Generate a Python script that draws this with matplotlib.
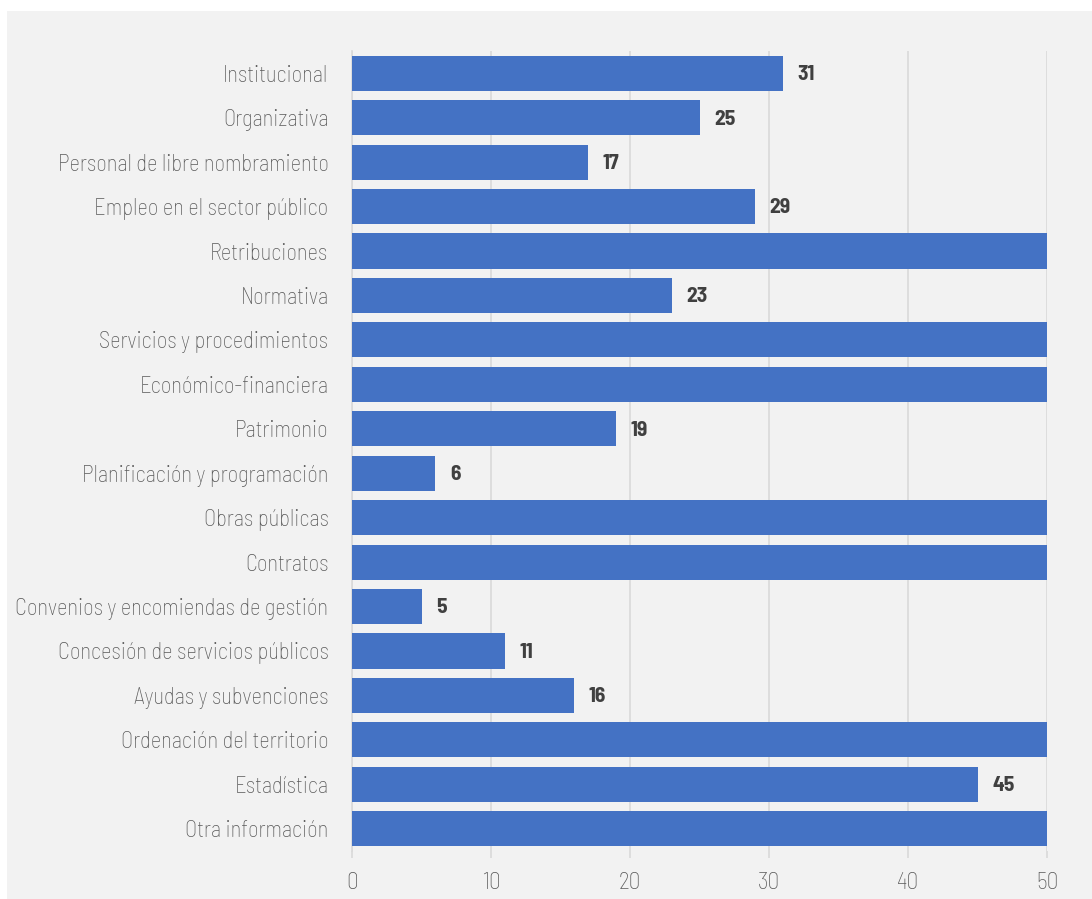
import matplotlib
matplotlib.use("Agg")
import matplotlib.pyplot as plt
from matplotlib.patches import Rectangle
from matplotlib import font_manager

categories = [
    "Institucional", "Organizativa", "Personal de libre nombramiento",
    "Empleo en el sector público", "Retribuciones", "Normativa",
    "Servicios y procedimientos", "Económico-financiera", "Patrimonio",
    "Planificación y programación", "Obras públicas", "Contratos",
    "Convenios y encomiendas de gestión", "Concesión de servicios públicos",
    "Ayudas y subvenciones", "Ordenación del territorio", "Estadística",
    "Otra información",
]
# Values above 50 run off the axis in the reference (their labels are not visible)
values = [31, 25, 17, 29, 60, 23, 60, 60, 19, 6, 60, 60, 5, 11, 16, 60, 45, 60]
xticks = [0, 10, 20, 30, 40, 50]
x_max = 50

names = {f.name for f in font_manager.fontManager.ttflist}
fam = "DejaVu Sans"
for cand in ["Barlow Semi Condensed", "Roboto Condensed", "IBM Plex Sans Condensed",
             "Open Sans Condensed", "Liberation Sans Narrow"]:
    if cand in names:
        fam = cand
        break
plt.rcParams["font.family"] = [fam, "DejaVu Sans"]

W, H = 1092, 899
fig = plt.figure(figsize=(W / 100, H / 100), dpi=100)
fig.patch.set_facecolor("white")
fig.patches.append(Rectangle((7 / W, 0), 1 - 7 / W, 1 - 11 / H,
                             transform=fig.transFigure, facecolor="#f2f2f2",
                             edgecolor="none", zorder=-10))

left, right = 352 / W, 1047 / W
top, bottom = 1 - 51 / H, 1 - 851 / H
ax = fig.add_axes([left, bottom, right - left, top - bottom])
ax.set_facecolor("none")

y = list(range(len(categories)))
ax.barh(y, values, height=0.79, color="#4472C4", zorder=3)
for yi, v in zip(y, values):
    if v <= x_max:
        ax.text(v + 1.05, yi + 0.03, str(v), va="center", ha="left", fontsize=15.5,
                fontweight="bold", color="#404040", zorder=4)

ax.set_xlim(0, x_max)
ax.set_ylim(len(categories) - 0.5, -0.5)
ax.set_yticks(y)
ax.set_yticklabels(categories, fontsize=16.3, color="#595959", fontweight="light")
ax.set_xticks(xticks)
ax.set_xticklabels([str(t) for t in xticks], fontsize=17, color="#595959",
                   fontweight="light")
ax.tick_params(axis="y", length=0, pad=17)
ax.tick_params(axis="x", length=5, color="#d9d9d9", width=1.2, pad=10)
ax.grid(axis="x", color="#d9d9d9", linewidth=1.2, zorder=0)
for s in ["top", "right", "bottom"]:
    ax.spines[s].set_visible(False)
ax.spines["left"].set_color("#d9d9d9")
ax.spines["left"].set_linewidth(1.2)

fig.savefig("out.png", dpi=100)
